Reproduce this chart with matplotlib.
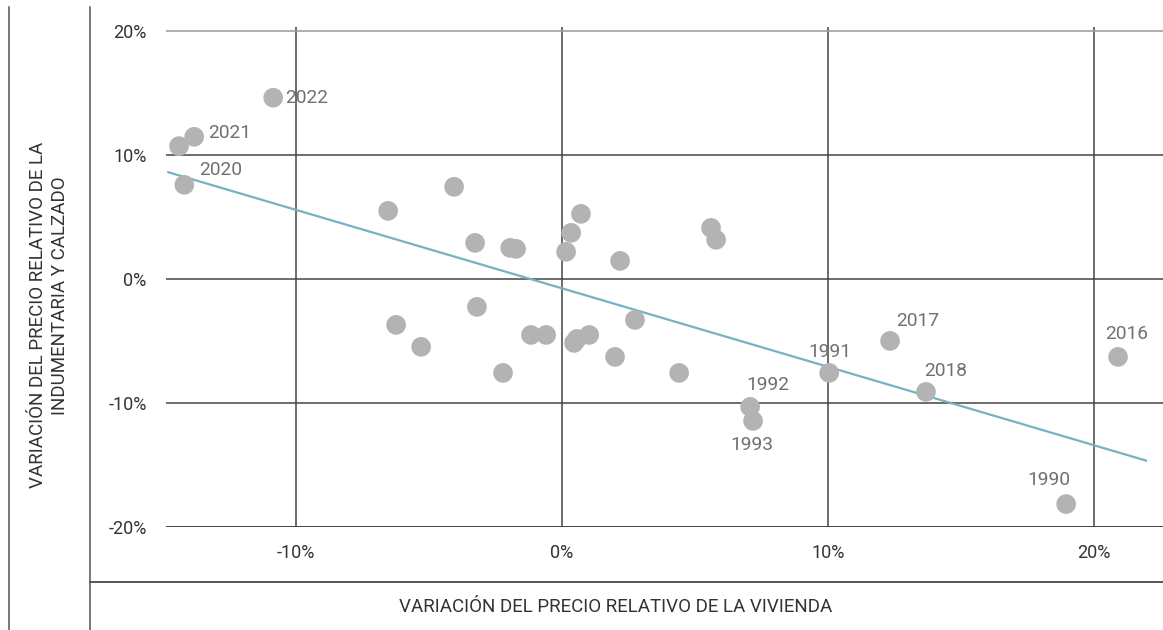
import numpy as np
import matplotlib
matplotlib.use("Agg")
import matplotlib.pyplot as plt
from matplotlib.lines import Line2D
from matplotlib.ticker import FuncFormatter

plt.rcParams['font.family'] = ['Roboto', 'DejaVu Sans']

# relative price change of housing (x) vs clothing & footwear (y), in %
vivienda = [-10.86, -13.83, -14.40, -14.20, -4.06, -6.54, -3.27, -1.95, -1.73,
            0.71, 0.34, 0.15, 2.18, 5.60, 5.79, -6.24, -5.30, -3.20, -1.17,
            -0.60, -2.22, 0.45, 0.56, 1.02, 2.74, 1.99, 4.40, 7.07, 7.18,
            10.04, 12.33, 13.68, 20.90, 18.95]
indumentaria = [14.60, 11.45, 10.70, 7.58, 7.42, 5.48, 2.90, 2.50, 2.42,
                5.24, 3.71, 2.18, 1.45, 4.11, 3.15, -3.71, -5.48, -2.26, -4.52,
                -4.52, -7.58, -5.16, -4.84, -4.52, -3.31, -6.29, -7.58, -10.32, -11.45,
                -7.58, -5.00, -9.11, -6.29, -18.15]
years = ['2022', '2021', None, '2020', None, None, None, None, None,
         None, None, None, None, None, None, None, None, None, None,
         None, None, None, None, None, None, None, None, '1992', '1993',
         '1991', '2017', '2018', '2016', '1990']

# label offsets in pixels (dx, dy) and horizontal alignment
label_pos = {'2022': (12, 0, 'left'), '2021': (14, 4, 'left'), '2020': (15, 15, 'left'),
             '1992': (18, 22, 'center'), '1993': (-1, -24, 'center'),
             '1991': (1, 21, 'center'), '2017': (28, 20, 'center'),
             '2018': (20, 21, 'center'), '2016': (9, 23, 'center'),
             '1990': (-17, 24, 'center')}

x_ticks = [-10, 0, 10, 20]
y_ticks = [-20, -10, 0, 10, 20]

W, H = 1163, 630
fig = plt.figure(figsize=(W / 100, H / 100), dpi=100)
ax = fig.add_axes([166 / W, 1 - 527 / H, 1 - 166 / W, 500 / H])

ax.set_xlim(-14.89, 22.59)
ax.set_ylim(-20, 20.3)

for t in x_ticks:
    ax.axvline(t, color='#444444', lw=1.1, zorder=1)
for t in y_ticks:
    ax.axhline(t, color='#999999' if t == 20 else '#444444', lw=1.1 if t != -20 else 1.4, zorder=1)

ax.scatter(vivienda, indumentaria, s=200, color='#b3b3b3', edgecolors='none', zorder=3)

# linear trend line
slope, intercept = np.polyfit(vivienda, indumentaria, 1)
xs = np.array([-14.8, 21.95])
ax.plot(xs, slope * xs + intercept, color='#76b2c3', lw=1.6, zorder=2)

for xv, yv, yr in zip(vivienda, indumentaria, years):
    if yr is None:
        continue
    dx, dy, ha = label_pos[yr]
    ax.annotate(yr, (xv, yv), xytext=(dx * 0.72, dy * 0.72), textcoords='offset points',
                ha=ha, va='center', fontsize=13.8, color='#707070', zorder=4)

ax.set_xticks(x_ticks)
ax.set_yticks(y_ticks)
fmt = FuncFormatter(lambda v, p: f"{v:.0f}%".replace('\u2212', '-'))
ax.xaxis.set_major_formatter(fmt)
ax.yaxis.set_major_formatter(fmt)
ax.tick_params(length=0, labelsize=13, labelcolor='#333333')
ax.tick_params(axis='y', pad=14)
ax.tick_params(axis='x', pad=12)
for s in ax.spines.values():
    s.set_visible(False)

# frame lines of the layout
fc = '#555555'
fig.add_artist(Line2D([9 / W, 9 / W], [0, 1 - 7 / H], color=fc, lw=1.1))
fig.add_artist(Line2D([90 / W, 90 / W], [0, 1 - 7 / H], color=fc, lw=1.1))
fig.add_artist(Line2D([90 / W, 1], [1 - 582 / H, 1 - 582 / H], color=fc, lw=1.4))

fig.text(616 / W, 1 - 607 / H, 'VARIACIÓN DEL PRECIO RELATIVO DE LA VIVIENDA',
         ha='center', va='center', fontsize=13.5, color='#333333')
fig.text(38 / W, 1 - 315 / H, 'VARIACIÓN DEL PRECIO RELATIVO DE LA',
         ha='center', va='center', rotation=90, fontsize=13.5, color='#333333')
fig.text(60 / W, 1 - 296 / H, 'INDUMENTARIA Y CALZADO',
         ha='center', va='center', rotation=90, fontsize=13.5, color='#333333')

fig.savefig('out.png', dpi=100)
